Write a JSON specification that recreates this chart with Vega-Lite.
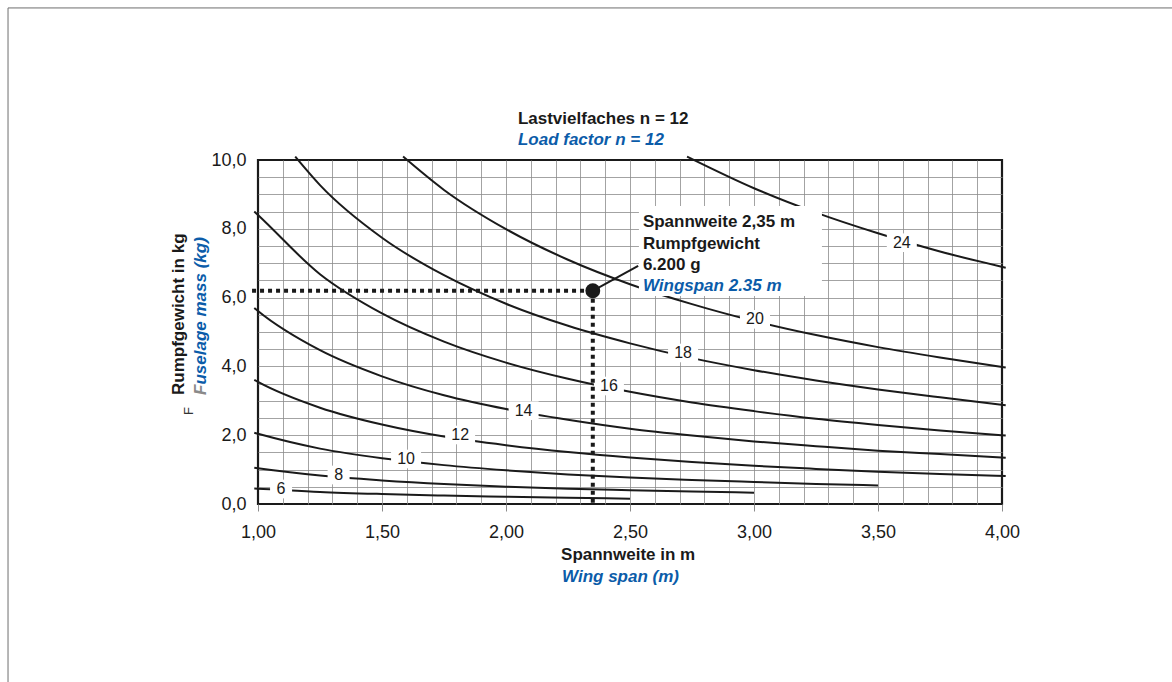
{
  "$schema": "https://vega.github.io/schema/vega-lite/v6.json",
  "width": 744,
  "height": 344,
  "autosize": {"type": "none"},
  "padding": {"left": 258, "top": 160, "right": 170, "bottom": 178},
  "background": "white",
  "config": {
    "font": "Liberation Sans",
    "view": {"stroke": "#1a1a1a", "strokeWidth": 2.2}
  },
  "datasets": {
    "curves": [
      {"n": 6, "x": 0.985, "y": 0.45}, {"n": 6, "x": 1.0, "y": 0.445}, {"n": 6, "x": 1.25, "y": 0.35}, {"n": 6, "x": 1.5, "y": 0.29}, {"n": 6, "x": 1.75, "y": 0.245}, {"n": 6, "x": 2.0, "y": 0.21}, {"n": 6, "x": 2.25, "y": 0.18}, {"n": 6, "x": 2.5, "y": 0.155},
      {"n": 8, "x": 0.985, "y": 1.055}, {"n": 8, "x": 1.0, "y": 1.04}, {"n": 8, "x": 1.25, "y": 0.825}, {"n": 8, "x": 1.5, "y": 0.685}, {"n": 8, "x": 1.75, "y": 0.58}, {"n": 8, "x": 2.0, "y": 0.505}, {"n": 8, "x": 2.25, "y": 0.445}, {"n": 8, "x": 2.5, "y": 0.4}, {"n": 8, "x": 2.75, "y": 0.36}, {"n": 8, "x": 3.0, "y": 0.33},
      {"n": 10, "x": 0.985, "y": 2.07}, {"n": 10, "x": 1.0, "y": 2.04}, {"n": 10, "x": 1.25, "y": 1.61}, {"n": 10, "x": 1.5, "y": 1.33}, {"n": 10, "x": 1.75, "y": 1.13}, {"n": 10, "x": 2.0, "y": 0.98}, {"n": 10, "x": 2.25, "y": 0.86}, {"n": 10, "x": 2.5, "y": 0.77}, {"n": 10, "x": 2.75, "y": 0.7}, {"n": 10, "x": 3.0, "y": 0.64}, {"n": 10, "x": 3.25, "y": 0.585}, {"n": 10, "x": 3.5, "y": 0.54},
      {"n": 12, "x": 0.985, "y": 3.61}, {"n": 12, "x": 1.0, "y": 3.55}, {"n": 12, "x": 1.25, "y": 2.8}, {"n": 12, "x": 1.5, "y": 2.31}, {"n": 12, "x": 1.75, "y": 1.96}, {"n": 12, "x": 2.0, "y": 1.71}, {"n": 12, "x": 2.25, "y": 1.51}, {"n": 12, "x": 2.5, "y": 1.35}, {"n": 12, "x": 2.75, "y": 1.22}, {"n": 12, "x": 3.0, "y": 1.11}, {"n": 12, "x": 3.25, "y": 1.02}, {"n": 12, "x": 3.5, "y": 0.94}, {"n": 12, "x": 3.75, "y": 0.87}, {"n": 12, "x": 4.015, "y": 0.815},
      {"n": 14, "x": 0.985, "y": 5.7}, {"n": 14, "x": 1.0, "y": 5.61}, {"n": 14, "x": 1.25, "y": 4.47}, {"n": 14, "x": 1.5, "y": 3.71}, {"n": 14, "x": 1.75, "y": 3.16}, {"n": 14, "x": 2.0, "y": 2.76}, {"n": 14, "x": 2.25, "y": 2.45}, {"n": 14, "x": 2.5, "y": 2.19}, {"n": 14, "x": 2.75, "y": 1.99}, {"n": 14, "x": 3.0, "y": 1.82}, {"n": 14, "x": 3.25, "y": 1.68}, {"n": 14, "x": 3.5, "y": 1.55}, {"n": 14, "x": 3.75, "y": 1.45}, {"n": 14, "x": 4.015, "y": 1.345},
      {"n": 16, "x": 0.985, "y": 8.5}, {"n": 16, "x": 1.0, "y": 8.4}, {"n": 16, "x": 1.25, "y": 6.68}, {"n": 16, "x": 1.5, "y": 5.54}, {"n": 16, "x": 1.75, "y": 4.72}, {"n": 16, "x": 2.0, "y": 4.11}, {"n": 16, "x": 2.25, "y": 3.64}, {"n": 16, "x": 2.5, "y": 3.26}, {"n": 16, "x": 2.75, "y": 2.95}, {"n": 16, "x": 3.0, "y": 2.7}, {"n": 16, "x": 3.25, "y": 2.48}, {"n": 16, "x": 3.5, "y": 2.3}, {"n": 16, "x": 3.75, "y": 2.14}, {"n": 16, "x": 4.015, "y": 1.99},
      {"n": 18, "x": 1.15, "y": 10.1}, {"n": 18, "x": 1.25, "y": 9.27}, {"n": 18, "x": 1.5, "y": 7.74}, {"n": 18, "x": 1.75, "y": 6.65}, {"n": 18, "x": 2.0, "y": 5.82}, {"n": 18, "x": 2.25, "y": 5.18}, {"n": 18, "x": 2.5, "y": 4.67}, {"n": 18, "x": 2.75, "y": 4.24}, {"n": 18, "x": 3.0, "y": 3.89}, {"n": 18, "x": 3.25, "y": 3.59}, {"n": 18, "x": 3.5, "y": 3.33}, {"n": 18, "x": 3.75, "y": 3.1}, {"n": 18, "x": 4.015, "y": 2.87},
      {"n": 20, "x": 1.585, "y": 10.1}, {"n": 20, "x": 1.75, "y": 9.13}, {"n": 20, "x": 2.0, "y": 7.99}, {"n": 20, "x": 2.25, "y": 7.1}, {"n": 20, "x": 2.5, "y": 6.39}, {"n": 20, "x": 2.75, "y": 5.81}, {"n": 20, "x": 3.0, "y": 5.32}, {"n": 20, "x": 3.25, "y": 4.91}, {"n": 20, "x": 3.5, "y": 4.56}, {"n": 20, "x": 3.75, "y": 4.26}, {"n": 20, "x": 4.015, "y": 3.97},
      {"n": 24, "x": 2.73, "y": 10.1}, {"n": 24, "x": 3.0, "y": 9.18}, {"n": 24, "x": 3.25, "y": 8.47}, {"n": 24, "x": 3.5, "y": 7.87}, {"n": 24, "x": 3.75, "y": 7.34}, {"n": 24, "x": 4.015, "y": 6.87}
    ],
    "labels": [
      {"n": 6, "x": 1.093, "y": 0.436},
      {"n": 8, "x": 1.325, "y": 0.843},
      {"n": 10, "x": 1.597, "y": 1.308},
      {"n": 12, "x": 1.815, "y": 2.006},
      {"n": 14, "x": 2.071, "y": 2.712},
      {"n": 16, "x": 2.415, "y": 3.43},
      {"n": 18, "x": 2.714, "y": 4.39},
      {"n": 20, "x": 3.004, "y": 5.369},
      {"n": 24, "x": 3.596, "y": 7.596}
    ]
  },
  "layer": [
    {
      "data": {"values": [{}]},
      "mark": {"type": "rect", "fill": null, "stroke": "#6e6e6e", "strokeWidth": 1},
      "encoding": {
        "x": {"datum": -0.008, "type": "quantitative"},
        "x2": {"datum": 5},
        "y": {"datum": 14.42, "type": "quantitative"},
        "y2": {"datum": -6}
      }
    },
    {
      "data": {"name": "curves"},
      "mark": {"type": "line", "color": "#1a1a1a", "strokeWidth": 2, "interpolate": "monotone"},
      "encoding": {
        "x": {
          "field": "x",
          "type": "quantitative",
          "scale": {"domain": [1, 4], "nice": false, "zero": false},
          "axis": {
            "title": null,
            "values": [1, 1.1, 1.2, 1.3, 1.4, 1.5, 1.6, 1.7, 1.8, 1.9, 2, 2.1, 2.2, 2.3, 2.4, 2.5, 2.6, 2.7, 2.8, 2.9, 3, 3.1, 3.2, 3.3, 3.4, 3.5, 3.6, 3.7, 3.8, 3.9, 4],
            "tickCount": 200,
            "domain": false,
            "grid": true,
            "gridColor": "#8c8c8c",
            "gridWidth": 0.8,
            "gridOpacity": {"condition": {"test": "datum.value < 1.001 || datum.value > 3.999", "value": 0}, "value": 1},
            "ticks": true,
            "tickSize": 7,
            "tickColor": "#8c8c8c",
            "tickOpacity": {"condition": {"test": "abs(datum.value * 2 - round(datum.value * 2)) < 0.01", "value": 1}, "value": 0},
            "labelExpr": "abs(datum.value * 2 - round(datum.value * 2)) < 0.01 ? replace(format(datum.value, '.2f'), '.', ',') : ''",
            "labelPadding": 12,
            "labelFont": "Liberation Sans",
            "labelFontSize": 18,
            "labelColor": "#1a1a1a",
            "labelOverlap": false,
            "labelFlush": false,
            "labelBound": false
          }
        },
        "y": {
          "field": "y",
          "type": "quantitative",
          "scale": {"domain": [0, 10], "nice": false, "zero": false},
          "axis": {
            "title": null,
            "values": [0, 0.5, 1, 1.5, 2, 2.5, 3, 3.5, 4, 4.5, 5, 5.5, 6, 6.5, 7, 7.5, 8, 8.5, 9, 9.5, 10],
            "tickCount": 200,
            "domain": false,
            "grid": true,
            "gridColor": "#8c8c8c",
            "gridWidth": 0.8,
            "gridOpacity": {"condition": {"test": "datum.value < 0.001 || datum.value > 9.999", "value": 0}, "value": 1},
            "ticks": false,
            "labelExpr": "datum.value % 2 == 0 ? replace(format(datum.value, '.1f'), '.', ',') : ''",
            "labelPadding": 12,
            "labelFont": "Liberation Sans",
            "labelFontSize": 18,
            "labelColor": "#1a1a1a",
            "labelOverlap": false,
            "labelFlush": false,
            "labelBound": false
          }
        },
        "detail": {"field": "n", "type": "nominal"}
      }
    },
    {
      "data": {"name": "labels"},
      "transform": [{"filter": "datum.n < 10"}],
      "mark": {"type": "point", "shape": "M-1,-0.85L1,-0.85L1,0.85L-1,0.85Z", "filled": true, "fill": "white", "stroke": null, "opacity": 1, "size": 484},
      "encoding": {
        "x": {"field": "x", "type": "quantitative"},
        "y": {"field": "y", "type": "quantitative"}
      }
    },
    {
      "data": {"name": "labels"},
      "transform": [{"filter": "datum.n >= 10"}],
      "mark": {"type": "point", "shape": "M-1,-0.62L1,-0.62L1,0.62L-1,0.62Z", "filled": true, "fill": "white", "stroke": null, "opacity": 1, "size": 900},
      "encoding": {
        "x": {"field": "x", "type": "quantitative"},
        "y": {"field": "y", "type": "quantitative"}
      }
    },
    {
      "data": {"values": [{}]},
      "mark": {"type": "rule", "color": "#1a1a1a", "strokeWidth": 4, "strokeDash": [4, 4]},
      "encoding": {
        "x": {"datum": 0.976, "type": "quantitative"},
        "x2": {"datum": 2.35},
        "y": {"datum": 6.2, "type": "quantitative"}
      }
    },
    {
      "data": {"values": [{}]},
      "mark": {"type": "rule", "color": "#1a1a1a", "strokeWidth": 4, "strokeDash": [4, 4]},
      "encoding": {
        "x": {"datum": 2.35, "type": "quantitative"},
        "y": {"datum": 6.2, "type": "quantitative"},
        "y2": {"datum": -0.08}
      }
    },
    {
      "data": {"name": "labels"},
      "mark": {"type": "text", "font": "Liberation Sans", "fontSize": 16, "color": "#1a1a1a", "align": "center", "baseline": "middle"},
      "encoding": {
        "x": {"field": "x", "type": "quantitative"},
        "y": {"field": "y", "type": "quantitative"},
        "text": {"field": "n", "type": "nominal"}
      }
    },
    {
      "data": {"values": [{}]},
      "mark": {"type": "rect", "fill": "white", "stroke": null},
      "encoding": {
        "x": {"datum": 2.536, "type": "quantitative"},
        "x2": {"datum": 3.274},
        "y": {"datum": 8.663, "type": "quantitative"},
        "y2": {"datum": 6.047}
      }
    },
    {
      "data": {"values": [{}]},
      "mark": {"type": "rule", "color": "#1a1a1a", "strokeWidth": 2},
      "encoding": {
        "x": {"datum": 2.355, "type": "quantitative"},
        "y": {"datum": 6.22, "type": "quantitative"},
        "x2": {"datum": 2.533},
        "y2": {"datum": 6.92}
      }
    },
    {
      "data": {"values": [{}]},
      "mark": {"type": "point", "filled": true, "color": "#1a1a1a", "opacity": 1, "size": 220},
      "encoding": {
        "x": {"datum": 2.35, "type": "quantitative"},
        "y": {"datum": 6.2, "type": "quantitative"}
      }
    },
    {
      "data": {"values": [{}]},
      "mark": {"type": "text", "text": "Lastvielfaches n = 12", "font": "Liberation Sans", "fontSize": 17, "fontWeight": "bold", "color": "#1a1a1a", "align": "left", "baseline": "alphabetic"},
      "encoding": {"x": {"datum": 2.048, "type": "quantitative"}, "y": {"datum": 11.047, "type": "quantitative"}}
    },
    {
      "data": {"values": [{}]},
      "mark": {"type": "text", "text": "Load factor n = 12", "font": "Liberation Sans", "fontSize": 17, "fontWeight": "bold", "fontStyle": "italic", "color": "#0b5ca9", "align": "left", "baseline": "alphabetic"},
      "encoding": {"x": {"datum": 2.048, "type": "quantitative"}, "y": {"datum": 10.436, "type": "quantitative"}}
    },
    {
      "data": {"values": [{}]},
      "mark": {"type": "text", "text": "Spannweite 2,35 m", "font": "Liberation Sans", "fontSize": 17, "fontWeight": "bold", "color": "#1a1a1a", "align": "left", "baseline": "alphabetic"},
      "encoding": {"x": {"datum": 2.552, "type": "quantitative"}, "y": {"datum": 8.044, "type": "quantitative"}}
    },
    {
      "data": {"values": [{}]},
      "mark": {"type": "text", "text": "Rumpfgewicht", "font": "Liberation Sans", "fontSize": 17, "fontWeight": "bold", "color": "#1a1a1a", "align": "left", "baseline": "alphabetic"},
      "encoding": {"x": {"datum": 2.552, "type": "quantitative"}, "y": {"datum": 7.424, "type": "quantitative"}}
    },
    {
      "data": {"values": [{}]},
      "mark": {"type": "text", "text": "6.200 g", "font": "Liberation Sans", "fontSize": 17, "fontWeight": "bold", "color": "#1a1a1a", "align": "left", "baseline": "alphabetic"},
      "encoding": {"x": {"datum": 2.552, "type": "quantitative"}, "y": {"datum": 6.802, "type": "quantitative"}}
    },
    {
      "data": {"values": [{}]},
      "mark": {"type": "text", "text": "Wingspan 2.35 m", "font": "Liberation Sans", "fontSize": 17, "fontWeight": "bold", "fontStyle": "italic", "color": "#0b5ca9", "align": "left", "baseline": "alphabetic"},
      "encoding": {"x": {"datum": 2.552, "type": "quantitative"}, "y": {"datum": 6.2, "type": "quantitative"}}
    },
    {
      "data": {"values": [{}]},
      "mark": {"type": "text", "text": "Spannweite in m", "font": "Liberation Sans", "fontSize": 17, "fontWeight": "bold", "color": "#1a1a1a", "align": "left", "baseline": "alphabetic"},
      "encoding": {"x": {"datum": 2.222, "type": "quantitative"}, "y": {"datum": -1.628, "type": "quantitative"}}
    },
    {
      "data": {"values": [{}]},
      "mark": {"type": "text", "text": "Wing span (m)", "font": "Liberation Sans", "fontSize": 17, "fontWeight": "bold", "fontStyle": "italic", "color": "#0b5ca9", "align": "left", "baseline": "alphabetic"},
      "encoding": {"x": {"datum": 2.226, "type": "quantitative"}, "y": {"datum": -2.259, "type": "quantitative"}}
    },
    {
      "data": {"values": [{}]},
      "mark": {"type": "text", "text": "Rumpfgewicht in kg", "angle": 270, "font": "Liberation Sans", "fontSize": 17, "fontWeight": "bold", "color": "#1a1a1a", "align": "left", "baseline": "alphabetic"},
      "encoding": {"x": {"datum": 0.6996, "type": "quantitative"}, "y": {"datum": 3.169, "type": "quantitative"}}
    },
    {
      "data": {"values": [{}]},
      "mark": {"type": "text", "text": "F", "angle": 270, "font": "Liberation Sans", "fontSize": 17, "fontWeight": "bold", "fontStyle": "italic", "color": "#8a8a8a", "align": "left", "baseline": "alphabetic"},
      "encoding": {"x": {"datum": 0.7923, "type": "quantitative"}, "y": {"datum": 3.169, "type": "quantitative"}}
    },
    {
      "data": {"values": [{}]},
      "mark": {"type": "text", "text": "uselage mass (kg)", "angle": 270, "dx": 10.4, "font": "Liberation Sans", "fontSize": 17, "fontWeight": "bold", "fontStyle": "italic", "color": "#0b5ca9", "align": "left", "baseline": "alphabetic"},
      "encoding": {"x": {"datum": 0.7923, "type": "quantitative"}, "y": {"datum": 3.169, "type": "quantitative"}}
    },
    {
      "data": {"values": [{}]},
      "mark": {"type": "text", "text": "F", "angle": 270, "font": "Liberation Sans", "fontSize": 13, "color": "#333333", "align": "left", "baseline": "alphabetic"},
      "encoding": {"x": {"datum": 0.738, "type": "quantitative"}, "y": {"datum": 2.59, "type": "quantitative"}}
    }
  ]
}
